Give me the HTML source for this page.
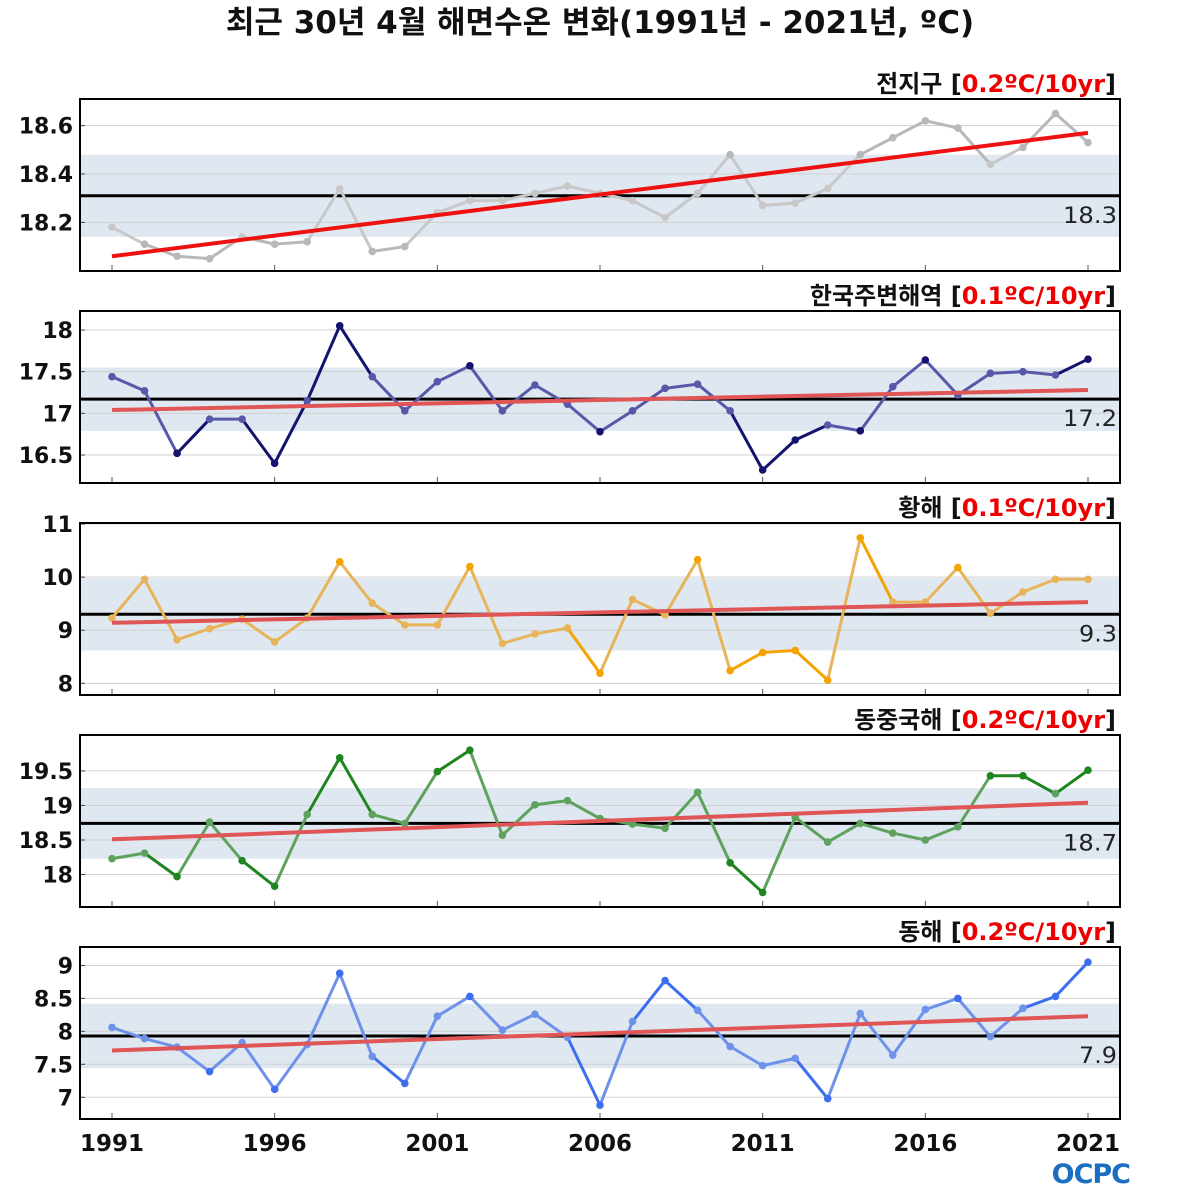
<!DOCTYPE html>
<html><head><meta charset="utf-8">
<style>
html,body{margin:0;padding:0;background:#fff;}
svg{display:block;font-family:"DejaVu Sans","Noto Sans CJK KR",sans-serif;}
</style></head>
<body>
<svg id="chart" width="1200" height="1200" viewBox="0 0 1200 1200">
<text x="600" y="33" text-anchor="middle" font-size="31" font-weight="bold" fill="#111">최근 30년 4월 해면수온 변화(1991년 - 2021년, ºC)</text>
<g id="panels"></g>
<g>
<text x="1130" y="1183" text-anchor="end" font-size="27" font-weight="bold" fill="#1a6fc0" letter-spacing="-1">OCPC</text>
</g>
</svg>
<script>
const years = [1991,1992,1993,1994,1995,1996,1997,1998,1999,2000,2001,2002,2003,2004,2005,2006,2007,2008,2009,2010,2011,2012,2013,2014,2015,2016,2017,2018,2019,2020,2021];
const xTickYears = [1991,1996,2001,2006,2011,2016,2021];
const panelNames = ["전지구","한국주변해역","황해","동중국해","동해"];
const panelTrendLabels = ["0.2ºC/10yr","0.1ºC/10yr","0.1ºC/10yr","0.2ºC/10yr","0.2ºC/10yr"];
const globalSST = [18.18,18.11,18.06,18.05,18.14,18.11,18.12,18.34,18.08,18.10,18.24,18.29,18.29,18.32,18.35,18.32,18.29,18.22,18.32,18.48,18.27,18.28,18.34,18.48,18.55,18.62,18.59,18.44,18.51,18.65,18.53];
const koreaSST = [17.44,17.27,16.52,16.93,16.93,16.40,17.15,18.05,17.44,17.03,17.38,17.57,17.03,17.34,17.11,16.78,17.03,17.30,17.35,17.03,16.32,16.68,16.86,16.79,17.32,17.64,17.22,17.48,17.50,17.46,17.65];
const yellowSST = [9.23,9.96,8.82,9.03,9.21,8.78,9.23,10.29,9.51,9.10,9.10,10.20,8.75,8.93,9.04,8.19,9.58,9.29,10.33,8.24,8.58,8.62,8.06,10.74,9.53,9.53,10.18,9.32,9.72,9.96,9.96];
const ecsSST = [18.23,18.31,17.97,18.76,18.20,17.83,18.87,19.69,18.87,18.74,19.49,19.80,18.57,19.01,19.07,18.81,18.73,18.67,19.19,18.17,17.74,18.83,18.47,18.74,18.60,18.50,18.69,19.43,19.43,19.17,19.51];
const eastSST = [8.06,7.89,7.76,7.39,7.83,7.12,7.80,8.88,7.62,7.21,8.23,8.53,8.02,8.26,7.91,6.88,8.15,8.77,8.32,7.77,7.48,7.59,6.98,8.27,7.64,8.33,8.50,7.92,8.35,8.53,9.05];
const means = [18.31,17.17,9.30,18.74,7.93];
const meanLabels = ["18.3","17.2","9.3","18.7","7.9"];
const bandHalf = [0.17,0.38,0.68,0.51,0.49];
const trendStart = [18.06,17.04,9.14,18.51,7.71];
const trendEnd = [18.57,17.28,9.53,19.04,8.23];
const yTicks0 = [18.2,18.4,18.6];
const yTicks1 = [16.5,17,17.5,18];
const yTicks2 = [8,9,10,11];
const yTicks3 = [18,18.5,19,19.5];
const yTicks4 = [7,7.5,8,8.5,9];
const series = [globalSST,koreaSST,yellowSST,ecsSST,eastSST];
const ticks = [yTicks0,yTicks1,yTicks2,yTicks3,yTicks4];

const NS="http://www.w3.org/2000/svg";
const root=document.getElementById('panels');
const tops=[99,311,523,735,947], H=172, X0=80, X1=1120;
const yTopV=[18.71,18.228,11.02,20.02,9.28];
const yBotV=[17.999,16.164,7.78,17.53,6.67];
const darkCol=["#b8b8b8","#14146e","#f5a300","#1f861f","#3d6ef0"];
const lightCol=["#c8c8c8","#5858a8","#e8b45a","#5ea25e","#6e92ea"];
function xS(yr){return 112+(yr-1991)*(1088-112)/30;}
function mk(tag,attrs,parent){const e=document.createElementNS(NS,tag);for(const k in attrs)e.setAttribute(k,attrs[k]);parent.appendChild(e);return e;}
for(let p=0;p<5;p++){
  const top=tops[p], bot=top+H;
  const yS=v=>top+(yTopV[p]-v)/(yTopV[p]-yBotV[p])*H;
  const g=mk('g',{},root);
  
  
  const b=mk('rect',{x:X0,y:yS(means[p]+bandHalf[p]),width:X1-X0,height:yS(means[p]-bandHalf[p])-yS(means[p]+bandHalf[p]),fill:"#dfe8f1"},g);
  
  
  ticks[p].forEach(t=>{
    const gl=mk('line',{x1:X0,x2:X1,y1:yS(t),y2:yS(t),stroke:"#d0d0d0","stroke-width":1},g);
    
    
    mk('line',{x1:X0,x2:X0+5,y1:yS(t),y2:yS(t),stroke:"#444"},g);
    const tl=mk('text',{x:73,y:yS(t)+8,"text-anchor":"end","font-size":22,"font-weight":"bold",fill:"#111"},g);
    tl.textContent=String(t);
    
    
  });
  xTickYears.forEach(yr=>{mk('line',{x1:xS(yr),x2:xS(yr),y1:bot-6,y2:bot,stroke:"#555"},g);});
  const ml=mk('line',{x1:X0,x2:X1,y1:yS(means[p]),y2:yS(means[p]),stroke:"#000","stroke-width":3},g);
  
  
  const mt=mk('text',{x:1117,y:yS(means[p])+27,"text-anchor":"end","font-size":22,fill:"#222",textLength:54,lengthAdjust:"spacingAndGlyphs"},g);
  if(meanLabels[p].length<4) mt.setAttribute('textLength',38);
  mt.textContent=meanLabels[p];
  
  
  const d=series[p];
  for(let i=0;i<d.length-1;i++){
    const mid=(d[i]+d[i+1])/2;
    const out=Math.abs(mid-means[p])>bandHalf[p];
    const s=mk('line',{x1:xS(years[i]),y1:yS(d[i]),x2:xS(years[i+1]),y2:yS(d[i+1]),stroke:out?darkCol[p]:lightCol[p],"stroke-width":3,"stroke-linecap":"round"},g);
    
    
  }
  for(let i=0;i<d.length;i++){
    const out=Math.abs(d[i]-means[p])>bandHalf[p];
    const c=mk('circle',{cx:xS(years[i]),cy:yS(d[i]),r:3.8,fill:out?darkCol[p]:lightCol[p]},g);
    
    
  }
  const tr=mk('line',{x1:xS(1991),y1:yS(trendStart[p]),x2:xS(2021),y2:yS(trendEnd[p]),stroke:p==0?"#ee1111":"#e05555","stroke-width":4},g);
  
  
  const fr=mk('rect',{x:X0,y:top,width:X1-X0,height:H,fill:"none",stroke:"#000","stroke-width":2},g);
  
  
  const tt=mk('text',{x:1116,y:top-7,"text-anchor":"end","font-size":24,"font-weight":"bold",fill:"#111"},g);
  
  
  const a=mk('tspan',{},tt);a.textContent=panelNames[p]+" [";
  const r=mk('tspan',{fill:"#ee0000"},tt);r.textContent=panelTrendLabels[p];
  const c2=mk('tspan',{},tt);c2.textContent="]";
}
xTickYears.forEach(yr=>{
  const t=mk('text',{x:xS(yr),y:1151,"text-anchor":"middle","font-size":23,"font-weight":"bold",fill:"#111"},root);
  t.textContent=String(yr);
  
  
});
</script>
</body></html>
